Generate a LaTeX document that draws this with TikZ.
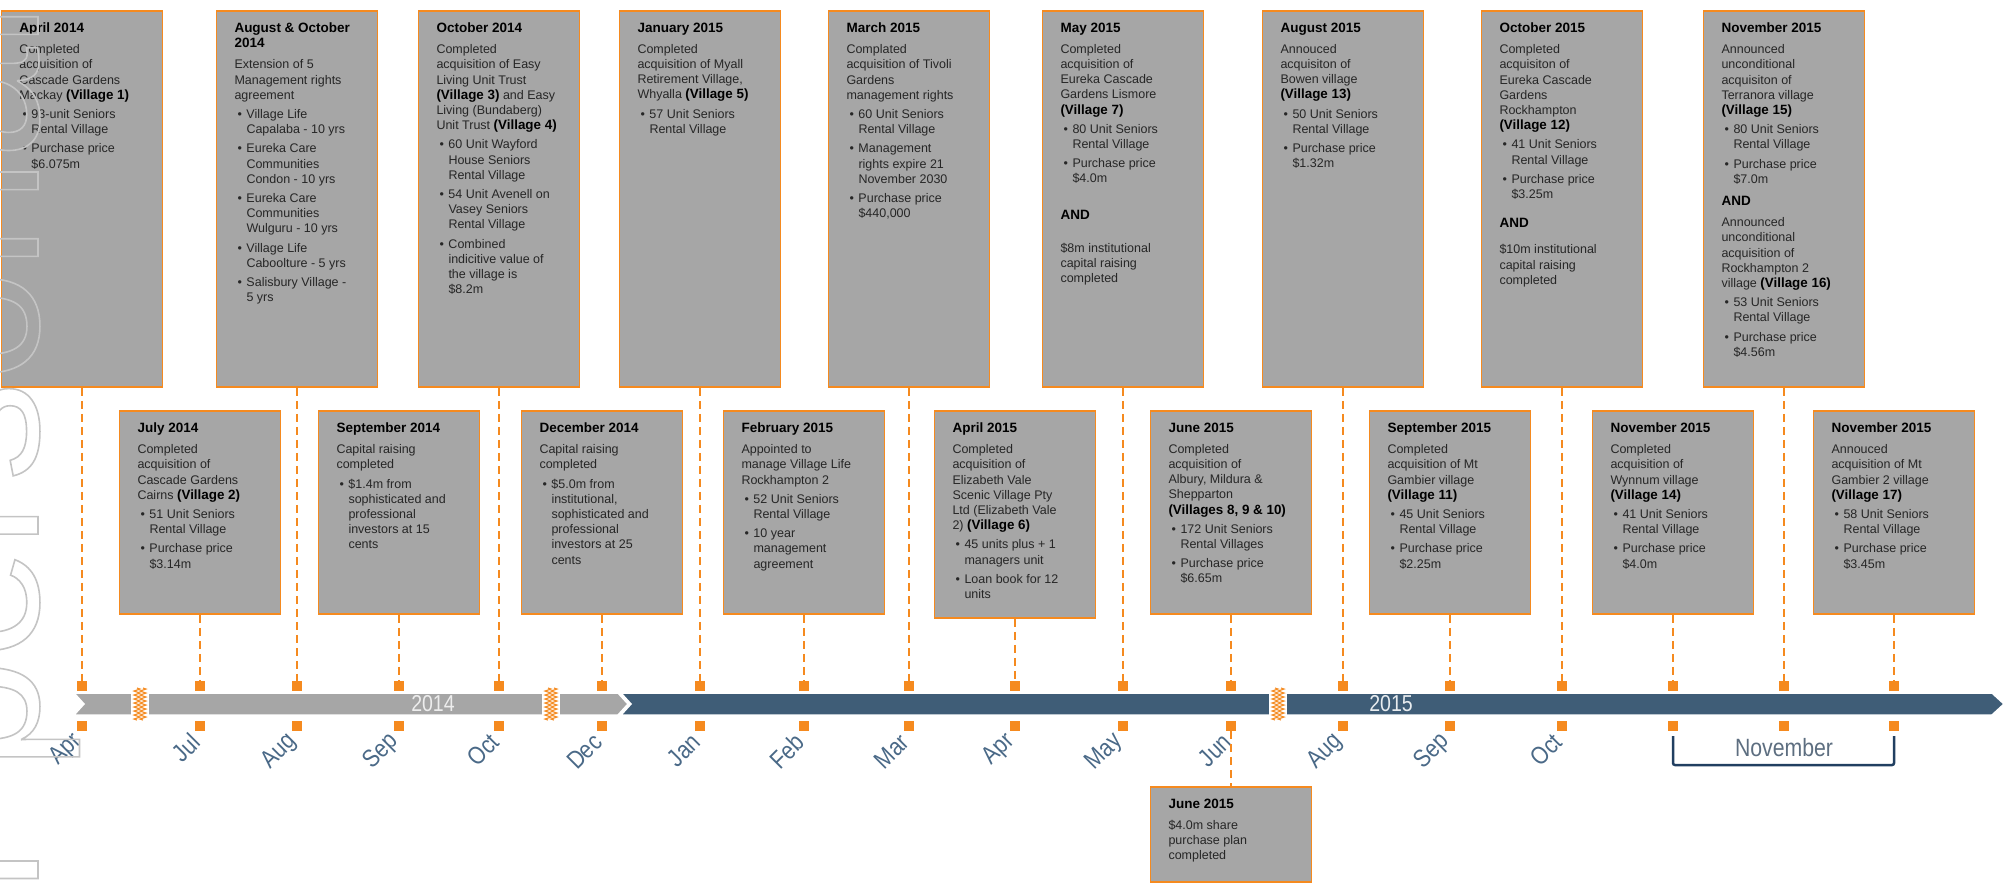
\documentclass[tikz,border=0pt]{standalone}
\usepackage{fontspec}
\setmainfont{Liberation Sans}
\newfontfamily\narrowfont[FakeStretch=0.85]{Liberation Sans}
\usetikzlibrary{calc,decorations.pathmorphing}

\definecolor{orng}{HTML}{F58A1F}
\definecolor{boxgrey}{HTML}{A6A6A6}
\definecolor{barblue}{HTML}{3F5D77}
\definecolor{monthblue}{HTML}{4A6987}
\definecolor{bracketblue}{HTML}{213F61}
\definecolor{novgrey}{HTML}{5D6E80}
\definecolor{wmgrey}{HTML}{C4C4C4}
\definecolor{txt}{HTML}{262626}

\tikzset{
  event/.style={draw=orng, line width=1.8pt, fill=boxgrey, inner xsep=18pt,
    inner ysep=12pt, anchor=north, text=txt},
  tick/.style={fill=orng, minimum size=10pt, inner sep=0pt},
  conn/.style={draw=orng, line width=2.4pt, dash pattern=on 8pt off 5pt},
  month/.style={text=monthblue, font=\narrowfont\fontsize{25}{25}\selectfont,
    rotate=45, anchor=east, inner sep=0pt},
  year/.style={font=\narrowfont\fontsize{23}{23}\selectfont, inner sep=0pt},
  brk/.style={bracketblue, line width=2.5pt, rounded corners=2pt},
  zig/.style={orng, line width=1.1pt, decorate,
    decoration={zigzag, segment length=4pt, amplitude=3pt}},
}

% box contents
\newcommand{\evtext}[2]{\begin{minipage}[c][#1][t]{125pt}%
  \fontsize{12.5}{15.2}\selectfont\parindent=0pt\rightskip=0pt plus 1fil\relax
  #2\end{minipage}}
\newcommand{\hd}[1]{\textcolor{black}{\fontsize{13.5}{15.2}\selectfont\bfseries #1}\par\vspace{5.8pt}}
\newcommand{\vil}[1]{\textcolor{black}{\fontsize{13.4}{15.2}\selectfont\bfseries (Village~#1)}}
\newcommand{\bul}{\par\vspace{4pt}\hangindent=12pt\hangafter=1\noindent
  \hbox to 12pt{\hskip3pt\textbullet\hfil}\ignorespaces}
\newcommand{\andtxt}[2]{\par\vspace{#1}\textcolor{black}{\fontsize{13.5}{15.2}\selectfont\bfseries AND}\par\vspace{#2}}

\begin{document}
\begin{tikzpicture}[x=1pt, y=-1pt]
    \useasboundingbox (0,0) rectangle (2007,883);

    % define coordinates (month, square above, square below)
    \foreach \n/\x in {1/82,2/200,3/297,4/399,5/499,6/602,7/700,8/804,9/909,10/1015,11/1123,12/1231,13/1343,14/1450,15/1562,16/1673,17/1784,18/1894}{
        \coordinate (m\n) at (\x,704);
        \node[tick] (ta\n) at (\x,686) {};
        \node[tick] (tb\n) at (\x,726) {};
    }
    \coordinate (top) at (0,10);
    \coordinate (bot) at (0,410);
    \coordinate (low) at (0,786);

    % draw the two year arrows
    \fill[boxgrey, draw=white, line width=1.5pt] (74,693) -- (618,693) -- (628,704)
        -- (618,715) -- (74,715) -- (84,704) -- cycle;
    \fill[barblue, draw=white, line width=1.5pt] (621,693) -- (1992,693) -- (2004,704)
        -- (1992,715) -- (621,715) -- (631,704) -- cycle;

    % breaks
    \foreach \x in {140,551,1278}{
        \fill[white] (\x-9,688) rectangle (\x+9,720);
        \draw[zig] (\x-3,688) -- (\x-3,720);
        \draw[zig] (\x+3,688) -- (\x+3,720);
    }

    \node[year, text=white!93!black] (y2014) at (433,704) {2014};
    \node[year, text=white!88!barblue] (y2015) at (1391,704) {2015};

    % annotate months
    \foreach \n/\m in {1/Apr,2/Jul,3/Aug,4/Sep,5/Oct,6/Dec,7/Jan,8/Feb,9/Mar,10/Apr,11/May,12/Jun,13/Aug,14/Sep,15/Oct}
        \node[month] (lab\n) at ($(tb\n)+(-4,12)$) {\m};

    \coordinate (nova) at ($(tb16)+(0,10)$);
    \coordinate (novb) at ($(tb18)+(0,10)$);
    \draw[brk] (nova) -- ++(0,29) -| (novb);
    \node[text=novgrey, font=\narrowfont\fontsize{25}{25}\selectfont, inner sep=0pt]
        (nov) at ($(tb17)+(0,22)$) {November};

    % top row
    \node[event] (apr14) at (m1 |- top) {\evtext{352pt}{%
        \hd{April 2014}
        Completed\\ acquisition of\\ Cascade Gardens\\ Mackay \vil{1}
        \bul 93-unit Seniors\\ Rental Village
        \bul Purchase price\\ \$6.075m}};
    \node[event] (augoct14) at (m3 |- top) {\evtext{352pt}{%
        \hd{August~\&~October\\ 2014}
        Extension of 5\\ Management rights\\ agreement
        \bul Village Life\\ Capalaba - 10 yrs
        \bul Eureka Care\\ Communities\\ Condon - 10 yrs
        \bul Eureka Care\\ Communities\\ Wulguru - 10 yrs
        \bul Village Life\\ Caboolture - 5 yrs
        \bul Salisbury Village -\\ 5 yrs}};
    \node[event] (oct14) at (m5 |- top) {\evtext{352pt}{%
        \hd{October 2014}
        Completed\\ acquisition of Easy\\ Living Unit Trust\\ \vil{3} and Easy\\
        Living (Bundaberg)\\ Unit Trust \vil{4}
        \bul 60 Unit Wayford\\ House Seniors\\ Rental Village
        \bul 54 Unit Avenell on\\ Vasey Seniors\\ Rental Village
        \bul Combined\\ indicitive value of\\ the village is\\ \$8.2m}};
    \node[event] (jan15) at (m7 |- top) {\evtext{352pt}{%
        \hd{January 2015}
        Completed\\ acquisition of Myall\\ Retirement Village,\\ Whyalla \vil{5}
        \bul 57 Unit Seniors\\ Rental Village}};
    \node[event] (mar15) at (m9 |- top) {\evtext{352pt}{%
        \hd{March 2015}
        Complated\\ acquisition of Tivoli\\ Gardens\\ management rights
        \bul 60 Unit Seniors\\ Rental Village
        \bul Management\\ rights expire 21\\ November 2030
        \bul Purchase price\\ \$440,000}};
    \node[event] (may15) at (m11 |- top) {\evtext{352pt}{%
        \hd{May 2015}
        Completed\\ acquisition of\\ Eureka Cascade\\ Gardens Lismore\\ \vil{7}
        \bul 80 Unit Seniors\\ Rental Village
        \bul Purchase price\\ \$4.0m
        \andtxt{21pt}{18pt}
        \$8m institutional\\ capital raising\\ completed}};
    \node[event] (aug15) at (m13 |- top) {\evtext{352pt}{%
        \hd{August 2015}
        Annouced\\ acquisiton of\\ Bowen village\\ \vil{13}
        \bul 50 Unit Seniors\\ Rental Village
        \bul Purchase price\\ \$1.32m}};
    \node[event] (oct15) at (m15 |- top) {\evtext{352pt}{%
        \hd{October 2015}
        Completed\\ acquisiton of\\ Eureka Cascade\\ Gardens\\ Rockhampton\\ \vil{12}
        \bul 41 Unit Seniors\\ Rental Village
        \bul Purchase price\\ \$3.25m
        \andtxt{14pt}{11pt}
        \$10m institutional\\ capital raising\\ completed}};
    \node[event] (nov15a) at (m17 |- top) {\evtext{352pt}{%
        \hd{November 2015}
        Announced\\ unconditional\\ acquisiton of\\ Terranora village\\ \vil{15}
        \bul 80 Unit Seniors\\ Rental Village
        \bul Purchase price\\ \$7.0m
        \andtxt{7pt}{6pt}
        Announced\\ unconditional\\ acquisition of\\ Rockhampton 2\\ village \vil{16}
        \bul 53 Unit Seniors\\ Rental Village
        \bul Purchase price\\ \$4.56m}};

    % bottom row
    \node[event] (jul14) at (m2 |- bot) {\evtext{179pt}{%
        \hd{July 2014}
        Completed\\ acquisition of\\ Cascade Gardens\\ Cairns \vil{2}
        \bul 51 Unit Seniors\\ Rental Village
        \bul Purchase price\\ \$3.14m}};
    \node[event] (sep14) at (m4 |- bot) {\evtext{179pt}{%
        \hd{September 2014}
        Capital raising\\ completed
        \bul \$1.4m from\\ sophisticated and\\ professional\\ investors at 15\\ cents}};
    \node[event] (dec14) at (m6 |- bot) {\evtext{179pt}{%
        \hd{December 2014}
        Capital raising\\ completed
        \bul \$5.0m from\\ institutional,\\ sophisticated and\\ professional\\
        investors at 25\\ cents}};
    \node[event] (feb15) at (m8 |- bot) {\evtext{179pt}{%
        \hd{February 2015}
        Appointed to\\ manage Village Life\\ Rockhampton 2
        \bul 52 Unit Seniors\\ Rental Village
        \bul 10 year\\ management\\ agreement}};
    \node[event] (apr15) at (m10 |- bot) {\evtext{183pt}{%
        \hd{April 2015}
        Completed\\ acquisition of\\ Elizabeth Vale\\ Scenic Village Pty\\
        Ltd (Elizabeth Vale\\ 2) \vil{6}
        \bul 45 units plus + 1\\ managers unit
        \bul Loan book for 12\\ units}};
    \node[event] (jun15) at (m12 |- bot) {\evtext{179pt}{%
        \hd{June 2015}
        Completed\\ acquisition of\\ Albury, Mildura \&\\ Shepparton\\
        \textcolor{black}{\fontsize{13.4}{15.2}\selectfont\bfseries (Villages~8,~9~\&~10)}
        \bul 172 Unit Seniors\\ Rental Villages
        \bul Purchase price\\ \$6.65m}};
    \node[event] (sep15) at (m14 |- bot) {\evtext{179pt}{%
        \hd{September 2015}
        Completed\\ acquisition of Mt\\ Gambier village\\ \vil{11}
        \bul 45 Unit Seniors\\ Rental Village
        \bul Purchase price\\ \$2.25m}};
    \node[event] (nov15b) at (m16 |- bot) {\evtext{179pt}{%
        \hd{November 2015}
        Completed\\ acquisition of\\ Wynnum village\\ \vil{14}
        \bul 41 Unit Seniors\\ Rental Village
        \bul Purchase price\\ \$4.0m}};
    \node[event] (nov15c) at (m18 |- bot) {\evtext{179pt}{%
        \hd{November 2015}
        Annouced\\ acquisition of Mt\\ Gambier 2 village\\ \vil{17}
        \bul 58 Unit Seniors\\ Rental Village
        \bul Purchase price\\ \$3.45m}};

    % below the line
    \node[event] (jun15s) at (m12 |- low) {\evtext{71pt}{%
        \hd{June 2015}
        \$4.0m share\\ purchase plan\\ completed}};

    % connectors
    \foreach \b/\n in {apr14/1,augoct14/3,oct14/5,jan15/7,mar15/9,may15/11,aug15/13,oct15/15,nov15a/17,jul14/2,sep14/4,dec14/6,feb15/8,apr15/10,jun15/12,sep15/14,nov15b/16,nov15c/18}
        \draw[conn] (\b.south) -- (ta\n.north);
    \draw[conn] (tb12.south) -- (jun15s.north);

    % watermark
    \node[text=wmgrey, font=\fontsize{200}{200}\selectfont, inner sep=0pt,
        rotate=90, anchor=base west] (wmark) at (38,1126)
        {\special{pdf:literal direct 1 Tr 1.6 w}For personal use only\special{pdf:literal direct 0 Tr}};
\end{tikzpicture}
\end{document}
